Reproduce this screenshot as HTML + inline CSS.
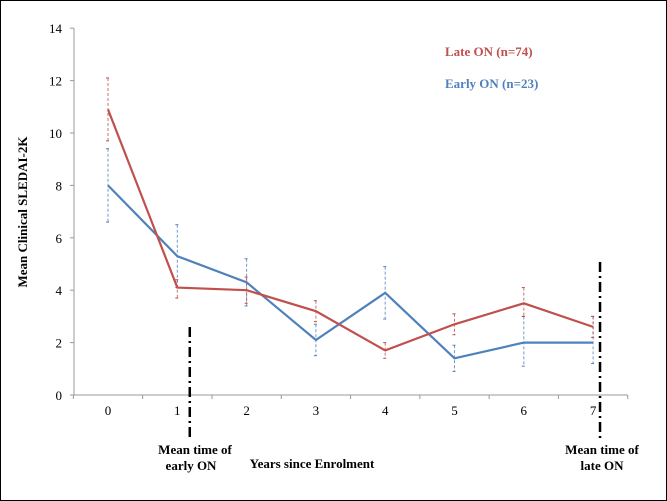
<!DOCTYPE html>
<html><head><meta charset="utf-8"><style>
body{margin:0;background:#fff}
svg{display:block;font-family:"Liberation Serif",serif}
</style></head><body>
<svg width="667" height="501">
<rect x="0.5" y="0.5" width="666" height="500" fill="#fff" stroke="#000"/>
<g id="axes"></g><g id="marks"></g>
<text x="27" y="212" transform="rotate(-90 27 212)" text-anchor="middle" font-size="13" font-weight="bold">Mean Clinical SLEDAI-2K</text>
<text x="312" y="468" text-anchor="middle" font-size="13" font-weight="bold">Years since Enrolment</text>
<text x="195" y="454" text-anchor="middle" font-size="13" font-weight="bold">Mean time of</text>
<text x="191" y="470" text-anchor="middle" font-size="13" font-weight="bold">early ON</text>
<text x="602" y="454" text-anchor="middle" font-size="13" font-weight="bold">Mean time of</text>
<text x="602" y="470" text-anchor="middle" font-size="13" font-weight="bold">late ON</text>
<text x="445" y="56" font-size="13" font-weight="bold" fill="#c0504d">Late ON (n=74)</text>
<text x="445" y="88" font-size="13" font-weight="bold" fill="#4f81bd">Early ON (n=23)</text>
</svg>
<script>
const categories=[0,1,2,3,4,5,6,7];
const yTicks=[0,2,4,6,8,10,12,14];
const lateMean=[10.9,4.1,4.0,3.2,1.7,2.7,3.5,2.6];
const lateHi=[12.1,4.4,4.5,3.6,2.0,3.1,4.1,3.0];
const lateLo=[9.7,3.7,3.5,2.8,1.4,2.3,3.0,2.2];
const earlyMean=[8.0,5.3,4.3,2.1,3.9,1.4,2.0,2.0];
const earlyHi=[9.4,6.5,5.2,2.7,4.9,1.9,3.0,3.0];
const earlyLo=[6.6,4.1,3.4,1.5,2.9,0.9,1.1,1.2];
const markers=[1.18,7.1];
const NS="http://www.w3.org/2000/svg";
const xs=v=>108+v*69.3;
const ys=v=>395-v*26.2;
function mk(tag,attrs,parent){const e=document.createElementNS(NS,tag);for(const k in attrs)e.setAttribute(k,attrs[k]);parent.appendChild(e);return e;}
const ax=document.getElementById('axes'),mg=document.getElementById('marks');
let l=mk('line',{x1:74,y1:ys(14),x2:74,y2:ys(0),stroke:'#999'},ax);


l=mk('line',{x1:74,y1:ys(0),x2:xs(7.5),y2:ys(0),stroke:'#999'},ax);


yTicks.forEach(t=>{
 mk('line',{x1:70,x2:74,y1:ys(t),y2:ys(t),stroke:'#999'},ax);
 const tx=mk('text',{x:62,y:ys(t)+5,'text-anchor':'end','font-size':13},ax);tx.textContent=t;
 
 
});
for(let i=0;i<=categories.length;i++){mk('line',{x1:xs(i-0.5),x2:xs(i-0.5),y1:ys(0),y2:ys(0)+4,stroke:'#999'},ax);}
categories.forEach(c=>{const tx=mk('text',{x:xs(c),y:ys(0)+20,'text-anchor':'middle','font-size':13},ax);tx.textContent=c;
 
 });
function series(mean,hi,lo,col,name){
 categories.forEach((c,i)=>{
  const e=mk('line',{x1:xs(c),x2:xs(c),y1:ys(hi[i]),y2:ys(lo[i]),stroke:col,'stroke-width':1,'stroke-dasharray':'3,2',opacity:0.8},mg);
  
  
  mk('line',{x1:xs(c)-2,x2:xs(c)+1,y1:ys(hi[i]),y2:ys(hi[i]),stroke:col},mg);
  mk('line',{x1:xs(c)-2,x2:xs(c)+1,y1:ys(lo[i]),y2:ys(lo[i]),stroke:col},mg);
 });
 const p=mk('polyline',{points:categories.map((c,i)=>xs(c)+','+ys(mean[i])).join(' '),fill:'none',stroke:col,'stroke-width':2.2},mg);
 
 
}
series(earlyMean,earlyHi,earlyLo,'#4f81bd','early-on');
series(lateMean,lateHi,lateLo,'#c0504d','late-on');
const mTop=[327,262];
markers.forEach((m,i)=>{
 const e=mk('line',{x1:xs(m),x2:xs(m),y1:mTop[i],y2:438,stroke:'#000','stroke-width':2.5,'stroke-dasharray':'10,4,2,4'},mg);
 
 
});
</script>
</body></html>
